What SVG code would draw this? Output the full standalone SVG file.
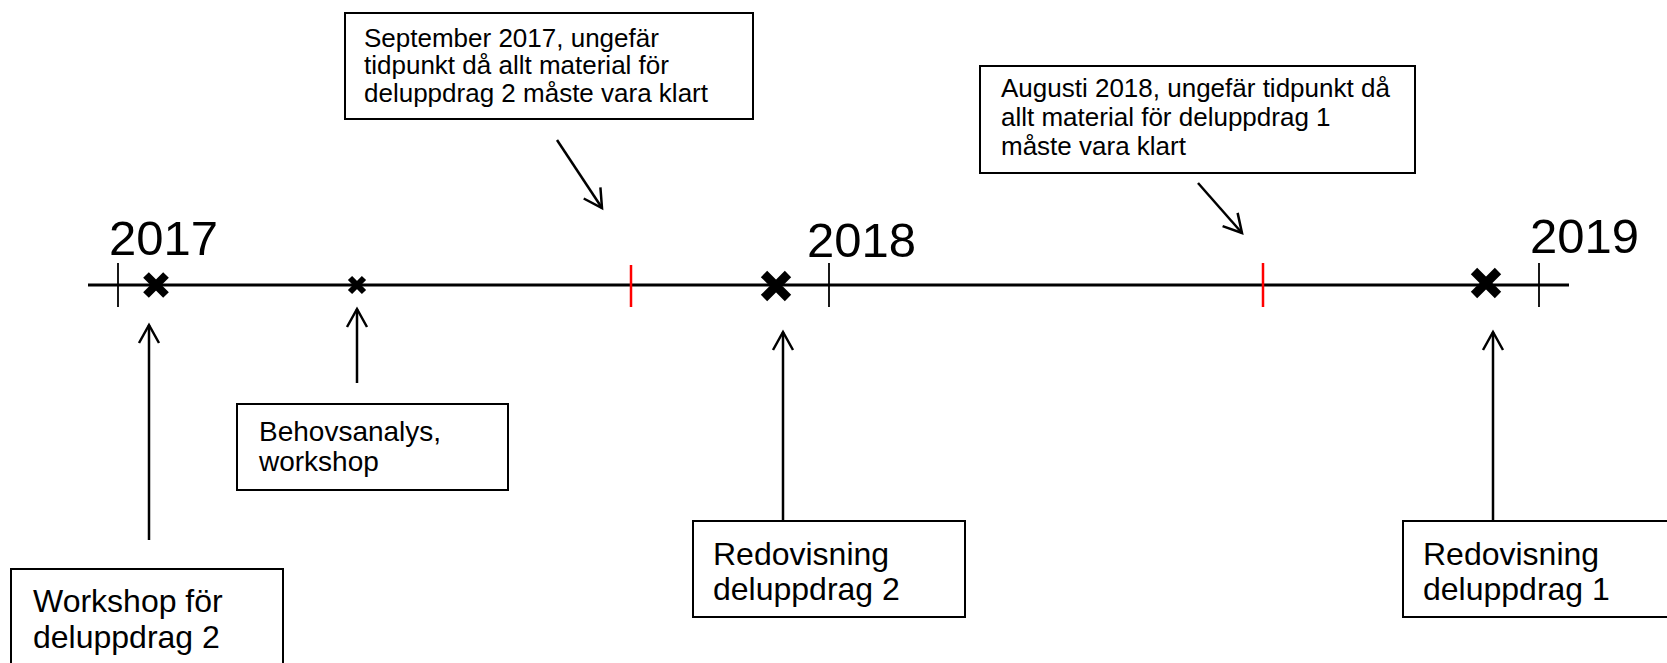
<svg xmlns="http://www.w3.org/2000/svg" width="1667" height="663" viewBox="0 0 1667 663">
<style>
text{font-family:"Liberation Sans",Arial,sans-serif;fill:#000}
.box{fill:#fff;stroke:#000;stroke-width:2}
.year{font-size:49px}
.small{font-size:26px}
.mid{font-size:28px}
.big{font-size:32px}
.conn{stroke:#000;stroke-width:2.5;fill:none}
.tick{stroke:#000;stroke-width:1.8}
.red{stroke:#ff0000;stroke-width:2.5}
.x{stroke:#000;stroke-linecap:butt}
</style>
<defs>
<marker id="ah" markerUnits="userSpaceOnUse" viewBox="-22 -12 26 24" refX="0" refY="0" markerWidth="26" markerHeight="24" orient="auto" overflow="visible">
<path d="M-18,-10 L0,0 L-18,10" fill="none" stroke="#000" stroke-width="2.5" stroke-linejoin="miter"/>
</marker>
</defs>
<g id="timeline">
<line x1="88" y1="285" x2="1569" y2="285" stroke="#000" stroke-width="3"/>
<line class="tick" x1="118" y1="263" x2="118" y2="307"/>
<line class="tick" x1="829" y1="263" x2="829" y2="307"/>
<line class="tick" x1="1539" y1="263" x2="1539" y2="307"/>
<line class="red" x1="631" y1="265" x2="631" y2="307"/>
<line class="red" x1="1263" y1="263" x2="1263" y2="307"/>
<text class="year" x="109" y="255">2017</text>
<text class="year" x="807" y="257">2018</text>
<text class="year" x="1530" y="253">2019</text>
</g>
<g id="markers">
<path class="x" d="M146,275 L166,295 M166,275 L146,295" stroke-width="8"/>
<path class="x" d="M350,278 L364,292 M364,278 L350,292" stroke-width="6"/>
<path class="x" d="M764,274 L788,298 M788,274 L764,298" stroke-width="9"/>
<path class="x" d="M1474,271 L1498,295 M1498,271 L1474,295" stroke-width="9"/>
</g>
<g id="connectors">
<line class="conn" x1="557" y1="140" x2="602" y2="208" marker-end="url(#ah)"/>
<line class="conn" x1="1198" y1="183" x2="1242" y2="233" marker-end="url(#ah)"/>
<line class="conn" x1="149" y1="540" x2="149" y2="325" marker-end="url(#ah)"/>
<line class="conn" x1="357" y1="383" x2="357" y2="309" marker-end="url(#ah)"/>
<line class="conn" x1="783" y1="521" x2="783" y2="332" marker-end="url(#ah)"/>
<line class="conn" x1="1493" y1="521" x2="1493" y2="332" marker-end="url(#ah)"/>
</g>
<g id="sep">
<rect class="box" x="345" y="13" width="408" height="106"/>
<text class="small" x="364" y="47">September 2017, ungefär</text>
<text class="small" x="364" y="74">tidpunkt då allt material för</text>
<text class="small" x="364" y="102">deluppdrag 2 måste vara klart</text>
</g>
<g id="aug">
<rect class="box" x="980" y="66" width="435" height="107"/>
<text class="small" x="1001" y="97">Augusti 2018, ungefär tidpunkt då</text>
<text class="small" x="1001" y="126">allt material för deluppdrag 1</text>
<text class="small" x="1001" y="155">måste vara klart</text>
</g>
<g id="behov">
<rect class="box" x="237" y="404" width="271" height="86"/>
<text class="mid" x="259" y="441">Behovsanalys,</text>
<text class="mid" x="259" y="471">workshop</text>
</g>
<g id="workshop">
<rect class="box" x="11" y="569" width="272" height="110"/>
<text class="big" x="33" y="612">Workshop för</text>
<text class="big" x="33" y="648">deluppdrag 2</text>
</g>
<g id="redov2">
<rect class="box" x="693" y="521" width="272" height="96"/>
<text class="big" x="713" y="565">Redovisning</text>
<text class="big" x="713" y="600">deluppdrag 2</text>
</g>
<g id="redov1">
<rect class="box" x="1403" y="521" width="280" height="96"/>
<text class="big" x="1423" y="565">Redovisning</text>
<text class="big" x="1423" y="600">deluppdrag 1</text>
</g>
</svg>
